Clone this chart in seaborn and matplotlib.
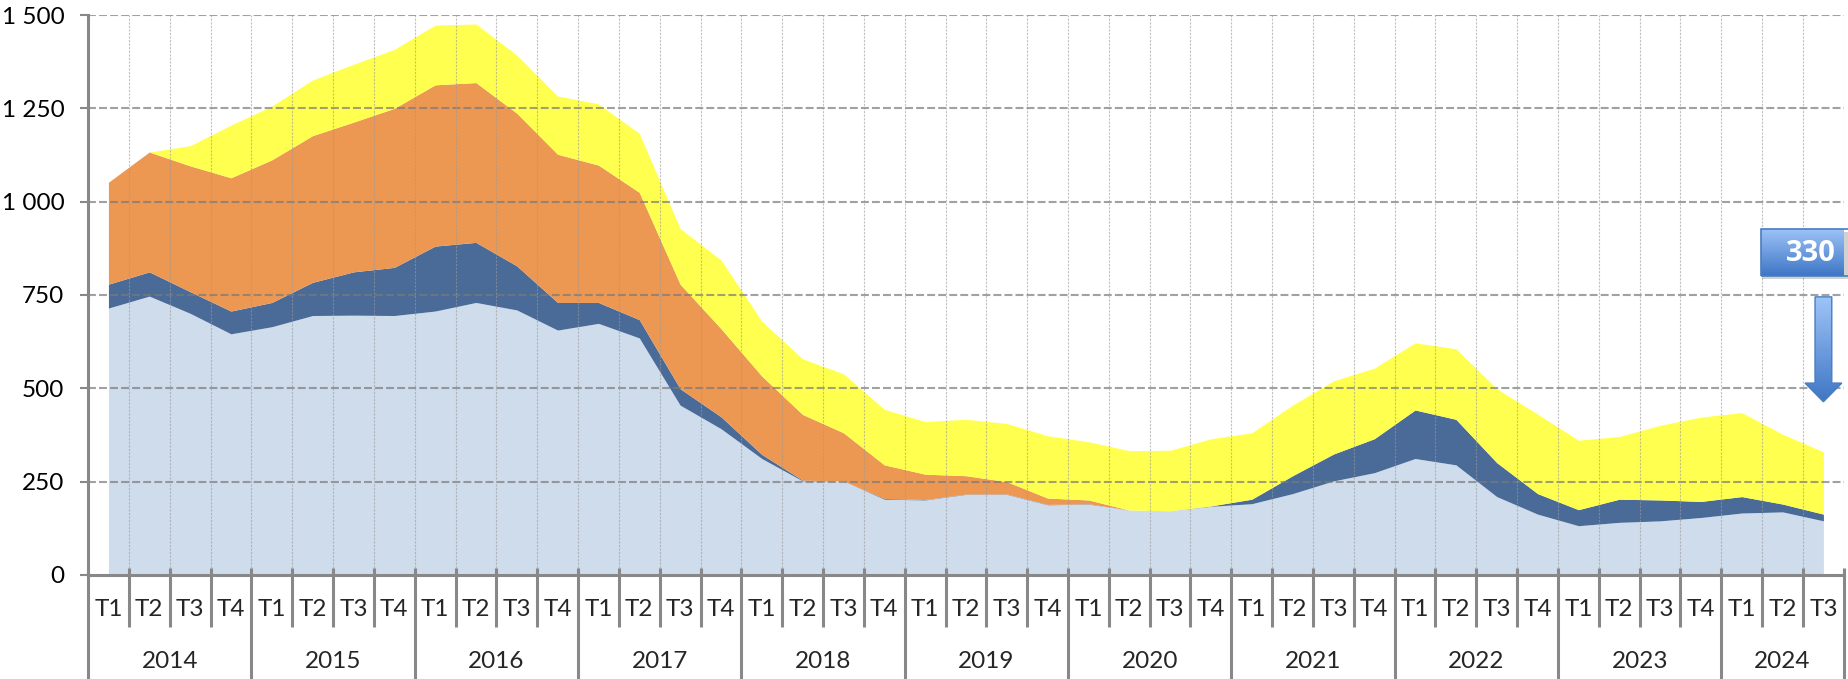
import numpy as np
import matplotlib
matplotlib.use("Agg")
import matplotlib.pyplot as plt
import matplotlib.transforms as mtransforms
from matplotlib.patches import Rectangle, Polygon
from matplotlib.colors import LinearSegmentedColormap
from matplotlib.ticker import FuncFormatter, MultipleLocator
import seaborn as sns

# quarterly data 2014 T1 -> 2024 T3
years = ["2014", "2015", "2016", "2017", "2018", "2019",
         "2020", "2021", "2022", "2023", "2024"]
quarters = ["T1", "T2", "T3", "T4"] * 10 + ["T1", "T2", "T3"]

serie_1 = [715, 747, 701, 646, 665, 695, 696, 695, 707, 730, 710, 656,
           674, 635, 455, 392, 312, 252, 252, 203, 201, 216, 216, 188,
           190, 174, 172, 184, 191, 218, 252, 274, 312, 295, 210, 163,
           132, 141, 145, 154, 166, 169, 145]
serie_2 = [64, 65, 58, 61, 65, 89, 116, 129, 174, 161, 118, 74,
           56, 49, 44, 32, 11, 2, 0, 2, 1, 1, 1, 1,
           1, 0, 0, 1, 12, 48, 72, 91, 130, 122, 91, 55,
           43, 62, 56, 43, 44, 21, 18]
serie_3 = [273, 321, 337, 357, 382, 393, 401, 426, 432, 428, 409, 397,
           368, 341, 280, 236, 210, 176, 129, 90, 68, 49, 33, 17,
           10, 0, 0, 0, 0, 0, 0, 0, 0, 0, 0, 0,
           0, 0, 0, 0, 0, 0, 0]
serie_4 = [0, 0, 54, 141, 144, 149, 155, 158, 160, 157, 156, 156,
           164, 158, 149, 184, 147, 149, 158, 149, 141, 151, 156, 167,
           156, 159, 162, 180, 178, 189, 196, 189, 180, 189, 198, 213,
           186, 168, 200, 226, 225, 187, 167]
last_value = 330

colors = ["#CEDCEC", "#4A6B97", "#EC9752", "#FFFF4F"]
axis_grey = "#888888"

sns.set_theme(style="white")
plt.rcParams["font.family"] = ["Lato", "DejaVu Sans"]

fig = plt.figure(figsize=(18.49, 6.79), dpi=100)
ax = fig.add_axes([0.0476, 0.1532, 0.9496, 0.8247])

n = len(quarters)
x = np.arange(n)
ax.stackplot(x, serie_1, serie_2, serie_3, serie_4, colors=colors,
             linewidth=0, zorder=2)

# grid
for yv in range(250, 1501, 250):
    ax.axhline(yv, color="#7a7a7a", lw=1.5, ls=(0, (3.8, 1.5)), alpha=0.7, zorder=3)
for b in np.arange(0.5, n + 0.5):
    ax.axvline(b, color="#9a9a9a", lw=0.8, ls=(0, (2, 1.2)), alpha=0.6, zorder=3)

# axes styling
for side in ["top", "right"]:
    ax.spines[side].set_visible(False)
for side in ["left", "bottom"]:
    ax.spines[side].set_color(axis_grey)
    ax.spines[side].set_linewidth(2.2)
    ax.spines[side].set_zorder(4)

ax.yaxis.set_major_locator(MultipleLocator(250))
ax.yaxis.set_major_formatter(FuncFormatter(lambda v, p: f"{v:,.0f}".replace(",", " ")))
ax.tick_params(axis="y", left=True, length=6, width=1.5, color=axis_grey,
               pad=11, labelsize=17.5, labelcolor="black")
ax.set_xticks([])

# two level category axis
trans = mtransforms.blended_transform_factory(ax.transData, ax.transAxes)
for i in range(n + 1):
    b = i - 0.5
    low = -0.186 if (i % 4 == 0 or i == n) else -0.093
    ax.plot([b, b], [0.0125, low], transform=trans, clip_on=False,
            color=axis_grey, lw=2.2, solid_capstyle="butt", zorder=5)
for i, q in enumerate(quarters):
    ax.text(i, -0.062, q, transform=trans, ha="center", va="center", fontsize=17.5)
for k, yr in enumerate(years):
    idx = [i for i in range(n) if i // 4 == k]
    ax.text(np.mean(idx), -0.155, yr, transform=trans, ha="center", va="center", fontsize=17.5)

# "330" callout with down arrow over last quarter
xl = n - 1
cmap = LinearSegmentedColormap.from_list("callout", ["#3E76C5", "#9EC4F8"])
grad = np.linspace(1, 0, 256).reshape(-1, 1)

shadow = Rectangle((xl - 1.50, 792), 3.2, 126, facecolor="black", alpha=0.18,
                   edgecolor="none", clip_on=False, zorder=5)
ax.add_patch(shadow)
box = Polygon([(xl - 1.53, 801), (xl + 1.67, 801), (xl + 1.67, 927), (xl - 1.53, 927)],
              closed=True, facecolor="none", edgecolor="#4A7CC0",
              lw=1.2, clip_on=False, zorder=7)
ax.add_patch(box)
img = ax.imshow(grad, extent=[xl - 1.53, xl + 1.67, 801, 927], aspect="auto",
                cmap=cmap, zorder=6)
img.set_clip_path(box)
img.set_clip_box(None)
ax.text(xl - 0.3, 862, str(last_value), color="white", fontsize=21,
        fontweight="bold", family=["Open Sans", "DejaVu Sans"],
        ha="center", va="center", zorder=8)

arrow = Polygon([(xl - 0.205, 745), (xl + 0.205, 745), (xl + 0.205, 514),
                 (xl + 0.45, 514), (xl, 464), (xl - 0.45, 514), (xl - 0.205, 514)],
                closed=True, facecolor="none", edgecolor="#4A7CC0", lw=1.0,
                clip_on=False, zorder=7)
ax.add_patch(arrow)
img2 = ax.imshow(grad, extent=[xl - 0.5, xl + 0.5, 464, 745], aspect="auto",
                 cmap=cmap, zorder=6)
img2.set_clip_path(arrow)
img2.set_clip_box(None)

ax.set_xlim(-0.5, n - 0.5)
ax.set_ylim(0, 1500)

fig.savefig("out.png", dpi=100)
